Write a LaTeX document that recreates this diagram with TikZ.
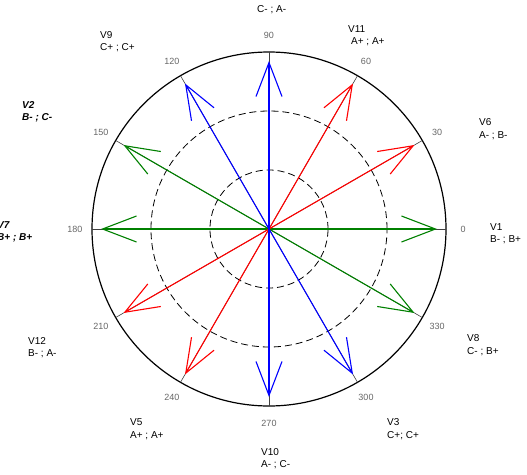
\documentclass[tikz,border=0pt]{standalone}
\usepackage{fontspec}
\setmainfont{Liberation Sans}
\usetikzlibrary{arrows.meta}

\tikzset{
  vec/.style={line width=1.1pt, -{Straight Barb[length=34pt, width=26pt, line width=1.1pt]}},
  lbl/.style={anchor=west, align=left, inner sep=0pt, font=\fontsize{10}{12.5}\selectfont},
  lblbi/.style={lbl, font=\fontsize{10}{12.5}\selectfont\bfseries\itshape},
  deg/.style={font=\fontsize{9}{11}\selectfont, text=black!60},
  ring/.style={dash pattern=on 7pt off 4pt, line width=0.8pt},
}

\begin{document}
\begin{tikzpicture}[x=1pt, y=1pt]
\useasboundingbox (-269,-245) rectangle (258,229);

% Centre of the compass
\coordinate (O) at (0,0);

% Outer circle and dashed rings
\draw[line width=1.2pt] (O) circle[radius=177];
\draw[ring] (O) circle[radius=118];
\draw[ring] (O) circle[radius=59];

% Spokes and angle labels
\foreach \a in {0,30,...,330} {
  \coordinate (s\a) at (\a:177);
  \draw[line width=0.6pt, black!75] (O) -- (s\a);
  \node[deg] (d\a) at (\a:194) {\a};
}

% Phase vectors
\foreach \a/\c in {0/green!50!black, 180/green!50!black, 150/green!50!black, 330/green!50!black,
                   30/red, 60/red, 210/red, 240/red,
                   90/blue, 120/blue, 270/blue, 300/blue} {
  \coordinate (t\a) at (\a:168);
  \draw[vec, draw=\c] (O) -- (t\a);
}

% Labels for vectors
\node[lbl] (v4) at (-12,225.5) {V4\\C- ; A-};
\node[lbl] (v11) at (79,193.5) {V11\\\hspace{3pt}A+ ; A+};
\node[lbl] (v9) at (-169,187.5) {V9\\C+ ; C+};
\node[lbl] (v6) at (210,100) {V6\\A- ; B-};
\node[lblbi] (v2) at (-247,117) {V2\\B- ; C-};
\node[lbl] (v1) at (221,-4.5) {V1\\B- ; B+};
\node[lblbi] (v7) at (-272,-3) {V7\\B+ ; B+};
\node[lbl] (v12) at (-241,-118.5) {V12\\B- ; A-};
\node[lbl] (v8) at (198,-116) {V8\\C- ; B+};
\node[lbl] (v5) at (-139,-200) {V5\\A+ ; A+};
\node[lbl] (v3) at (118,-200) {V3\\C+; C+};
\node[lbl] (v10) at (-8,-229.5) {V10\\A- ; C-};

\end{tikzpicture}
\end{document}
